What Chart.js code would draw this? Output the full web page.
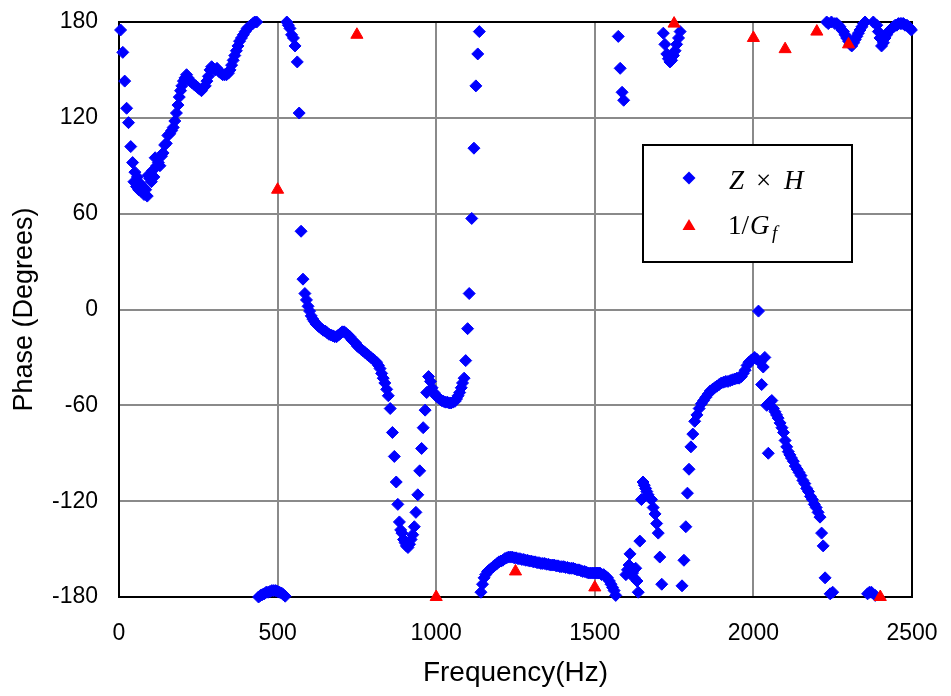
<!DOCTYPE html>
<html>
<head>
<meta charset="utf-8">
<script src="https://cdn.jsdelivr.net/npm/chart.js@4.4.1/dist/chart.umd.min.js"></script>
<style>
  html, body { margin: 0; padding: 0; background: #fff; }
</style>
</head>
<body>
<canvas id="phaseChart" width="951" height="696"></canvas>
<script>
// Z x H phase samples (Hz, degrees)
const zhFreq = [
  5, 12, 18, 24, 30, 37, 43, 47, 50, 55,
  58, 62, 66, 70, 74, 79, 84, 89, 92, 97,
  102, 106, 110, 114, 119, 124, 129, 134, 139, 144,
  149, 154, 160, 166, 171, 176, 181, 186, 190, 194,
  198, 203, 208, 213, 218, 224, 230, 236, 242, 248,
  254, 260, 266, 272, 277, 282, 287, 292, 297, 303,
  309, 315, 321, 327, 333, 339, 345, 350, 355, 360,
  365, 370, 375, 380, 386, 392, 398, 404, 410, 416,
  422, 428, 434, 440, 446, 452, 458, 464, 470, 476,
  482, 488, 494, 500, 506, 512, 518, 524, 529, 534,
  539, 544, 550, 555, 562, 568, 574, 580, 586, 591,
  596, 601, 606, 611, 616, 621, 626, 632, 638, 644,
  650, 656, 662, 668, 674, 680, 686, 692, 698, 704,
  710, 716, 722, 728, 734, 740, 746, 752, 758, 764,
  770, 776, 782, 788, 794, 800, 806, 812, 818, 823,
  828, 833, 838, 844, 849, 855, 862, 868, 874, 879,
  884, 888, 892, 897, 902, 906, 911, 916, 921, 926,
  931, 936, 942, 948, 954, 959, 965, 970, 976, 982,
  987, 993, 999, 1005, 1011, 1017, 1023, 1029, 1035, 1041,
  1047, 1053, 1059, 1064, 1069, 1074, 1079, 1083, 1088, 1093,
  1099, 1104, 1112, 1119, 1125, 1131, 1136, 1141, 1146, 1151,
  1156, 1162, 1168, 1174, 1180, 1186, 1192, 1198, 1204, 1210,
  1216, 1222, 1228, 1234, 1240, 1246, 1252, 1258, 1264, 1270,
  1276, 1282, 1288, 1294, 1300, 1306, 1312, 1318, 1324, 1330,
  1336, 1342, 1348, 1354, 1360, 1366, 1372, 1378, 1384, 1390,
  1396, 1402, 1408, 1414, 1420, 1426, 1432, 1438, 1444, 1450,
  1456, 1462, 1468, 1474, 1480, 1486, 1492, 1498, 1504, 1510,
  1516, 1522, 1528, 1534, 1540, 1546, 1551, 1556, 1561, 1566,
  1574, 1580, 1586, 1591, 1598, 1603, 1608, 1611, 1614, 1619,
  1624, 1629, 1633, 1637, 1642, 1647, 1652, 1656, 1660, 1664,
  1668, 1673, 1679, 1684, 1690, 1695, 1700, 1705, 1711, 1716,
  1721, 1727, 1732, 1737, 1742, 1748, 1753, 1758, 1764, 1769,
  1775, 1781, 1787, 1792, 1797, 1803, 1809, 1815, 1822, 1829,
  1836, 1843, 1850, 1857, 1864, 1871, 1878, 1885, 1892, 1899,
  1906, 1913, 1920, 1927, 1934, 1941, 1948, 1955, 1962, 1968,
  1974, 1980, 1986, 1992, 1998, 2004, 2010, 2016, 2021, 2026,
  2031, 2036, 2042, 2047, 2052, 2058, 2063, 2068, 2073, 2078,
  2084, 2090, 2095, 2100, 2105, 2110, 2115, 2120, 2126, 2132,
  2138, 2144, 2150, 2156, 2162, 2168, 2174, 2180, 2186, 2192,
  2198, 2204, 2210, 2215, 2220, 2226, 2231, 2236, 2242, 2246,
  2250, 2257, 2263, 2268, 2273, 2279, 2284, 2289, 2294, 2300,
  2305, 2310, 2316, 2321, 2326, 2331, 2336, 2342, 2347, 2352,
  2360, 2366, 2372, 2378, 2384, 2389, 2394, 2399, 2404, 2410,
  2415, 2420, 2426, 2431, 2436, 2442, 2447, 2452, 2457, 2463,
  2468, 2473, 2478, 2484, 2489, 2494, 2498
];
const zhPhase = [
  175, 161, 143, 126, 117, 102, 92, 80, 86, 77,
  83, 75, 79, 74, 77, 72, 75, 71, 84, 82,
  80, 87, 83, 95, 90, 92, 90, 96, 98, 103,
  104, 109, 110, 112, 114, 118, 123, 128, 133, 137,
  140, 143, 145, 147, 145, 143, 142, 141, 140, 139,
  138, 137, 139, 140, 143, 146, 150, 152, 151, 150,
  151, 149, 148, 147, 147, 147, 148, 150, 153, 156,
  159, 162, 165, 168, 170, 172, 174, 176, 177, 178,
  179, 180, 180, -180, -179, -178.5, -178, -177, -177, -176.5,
  -176, -176, -176, -176.5, -177, -177.5, -178.5, -179.5, 180, 178,
  176, 172, 170, 165, 155, 123, 49, 19, 10, 6,
  2, -1, -4, -6, -7.5, -9, -10, -11, -12, -13,
  -13.5, -14.5, -15.5, -16, -16.5, -17, -17, -16, -15, -14,
  -14, -15, -16, -17, -19, -20, -21, -23, -24, -25,
  -26, -27, -28, -29, -30, -31, -32, -33, -35, -37,
  -40, -43, -46, -50, -54, -62, -77, -92, -108, -122,
  -133, -138, -140, -144, -146, -148, -149, -147, -144, -141,
  -136, -127, -116, -101, -87, -74, -63, -52, -42, -45,
  -49, -52, -54, -55, -56, -57, -57.5, -58, -58, -58.5,
  -58.5, -58, -57.5, -56, -54, -52, -49, -46, -43, -32,
  -12, 10, 57, 101, 140, 160, 174, -177, -172, -168,
  -166, -164, -163, -162, -161, -160, -159, -158, -157.5, -157,
  -156, -155.5, -155, -155, -155, -155.5, -155.5, -156, -156, -156.5,
  -156.5, -157, -157, -157.5, -157.5, -158, -158, -158.5, -158.5, -159,
  -159, -159, -159.5, -159.5, -160, -160, -160, -160.5, -160.5, -161,
  -161, -161, -161.5, -161.5, -162, -162, -162, -162.5, -163, -163,
  -163.5, -164, -164, -164.5, -165, -165, -165, -165, -165, -165,
  -165, -166, -166, -167, -168, -170, -172, -174, -176, -179,
  171, 151, 136, 131, -166, -163, -160, -153, -162, -165,
  -168, -162, -170, -177, -145, -119, -108, -110, -112, -114,
  -116, -118, -119, -124, -128, -134, -140, -155, -172, 173,
  166, 160, 157, 155, 156, 159, 162, 166, 170, 174,
  -173, -157, -136, -115, -100, -86, -78, -70, -66, -62,
  -59, -57, -55, -53, -51, -50, -49, -48, -47, -46,
  -45.5, -45, -45, -44.5, -44, -43.5, -43, -43, -42, -40,
  -38, -35, -33, -32, -31, -30, -31, -1, -33, -47,
  -36, -30, -60, -90, -58, -57, -62, -64, -66, -68,
  -71, -74, -77, -82, -86, -89, -91, -93, -95, -98,
  -100, -102, -104, -107, -109, -112, -114, -117, -119, -122,
  -124, -127, -130, -140, -148, -168, 180, 179, -178, 180,
  -177, 179, 179, 178, 177, 175, 174, 172, 170, 168,
  166, 165, 167, 169, 171, 173, 175, 177, 179, 180,
  -178, -177, -177, 180, -179, 178, 174, 170, 165, 167,
  170, 172, 174, 175, 176, 177, 178, 178, 179, 179,
  179, 179, 178, 178, 177, 176, 175
];

// 1/Gf at the 250 Hz test points
const gfFreq = [500, 750, 1000, 1250, 1500, 1750, 2000, 2100, 2200, 2300, 2400];
const gfPhase = [75, 172, -180, -164, -174, 179, 170, 163, 174, 166, -180];

const xTicks = [0, 500, 1000, 1500, 2000, 2500];
const yTicks = [-180, -120, -60, 0, 60, 120, 180];

const toPoints = (xs, ys) => xs.map((x, i) => ({ x: x, y: ys[i] }));

const FONT = "'Liberation Sans', Arial, sans-serif";
const MATH = "'Liberation Serif', 'Times New Roman', serif";

// plot frame drawn under the markers, legend drawn over everything
const framePlugin = {
  id: 'frame',
  beforeDatasetsDraw(chart) {
    const { ctx, chartArea: a } = chart;
    ctx.save();
    ctx.strokeStyle = '#000';
    ctx.lineWidth = 2;
    ctx.strokeRect(a.left, a.top, a.right - a.left, a.bottom - a.top);
    ctx.restore();
  },
  afterDraw(chart) {
    const ctx = chart.ctx;
    ctx.save();
    ctx.fillStyle = '#fff';
    ctx.fillRect(643, 145, 209, 117);
    ctx.strokeStyle = '#000';
    ctx.lineWidth = 2;
    ctx.strokeRect(643, 145, 209, 117);

    // diamond
    ctx.fillStyle = '#0000ff';
    ctx.beginPath();
    ctx.moveTo(689, 171.5);
    ctx.lineTo(695.5, 178);
    ctx.lineTo(689, 184.5);
    ctx.lineTo(682.5, 178);
    ctx.closePath();
    ctx.fill();
    // triangle
    ctx.fillStyle = '#ff0000';
    ctx.beginPath();
    ctx.moveTo(689, 219);
    ctx.lineTo(695.5, 230);
    ctx.lineTo(682.5, 230);
    ctx.closePath();
    ctx.fill();

    ctx.fillStyle = '#000';
    ctx.textBaseline = 'alphabetic';
    ctx.font = 'italic 27px ' + MATH;
    ctx.fillText('Z', 729, 189);
    ctx.font = '27px ' + MATH;
    ctx.fillText('\u00d7', 756, 189);
    ctx.font = 'italic 27px ' + MATH;
    ctx.fillText('H', 784, 189);

    ctx.font = '27px ' + MATH;
    ctx.fillText('1/', 728, 234);
    ctx.font = 'italic 27px ' + MATH;
    ctx.fillText('G', 750, 234);
    ctx.font = 'italic 19px ' + MATH;
    ctx.fillText('f', 772, 239);
    ctx.restore();
  }
};

const noPad = (s) => { s.paddingTop = 0; s.paddingBottom = 0; s.paddingLeft = 0; s.paddingRight = 0; };

const ctx = document.getElementById('phaseChart').getContext('2d');
new Chart(ctx, {
  type: 'scatter',
  data: {
    datasets: [
      {
        label: 'Z \u00d7 H',
        data: toPoints(zhFreq, zhPhase),
        pointStyle: 'rectRot',
        pointRadius: 6,
        backgroundColor: '#0000ff',
        borderColor: '#0000ff',
        borderWidth: 1,
        clip: false,
        order: 2
      },
      {
        label: '1/Gf',
        data: toPoints(gfFreq, gfPhase),
        pointStyle: 'triangle',
        pointRadius: 7,
        backgroundColor: '#ff0000',
        borderColor: '#ff0000',
        borderWidth: 1,
        clip: false,
        order: 1
      }
    ]
  },
  options: {
    responsive: false,
    animation: false,
    layout: { padding: { top: 22, right: 39, left: 0, bottom: 0 } },
    plugins: {
      legend: { display: false },
      tooltip: { enabled: false }
    },
    scales: {
      x: {
        type: 'linear',
        min: 0,
        max: 2500,
        afterFit: (s) => { s.height = 99; noPad(s); },
        afterBuildTicks: (s) => { s.ticks = xTicks.map(v => ({ value: v })); },
        ticks: { color: '#000', font: { family: FONT, size: 23 }, padding: 23, callback: (v) => String(v) },
        grid: { color: '#8a8a8a', lineWidth: 2, drawTicks: false },
        border: { display: false },
        title: {
          display: true,
          text: 'Frequency(Hz)',
          color: '#000',
          font: { family: FONT, size: 28 },
          padding: { top: 0, bottom: 6 }
        }
      },
      y: {
        type: 'linear',
        min: -180,
        max: 180,
        afterFit: (s) => { s.width = 119; noPad(s); },
        afterBuildTicks: (s) => { s.ticks = yTicks.map(v => ({ value: v })); },
        ticks: { color: '#000', font: { family: FONT, size: 23 }, padding: 21, callback: (v) => String(v) },
        grid: { color: '#8a8a8a', lineWidth: 2, drawTicks: false },
        border: { display: false },
        title: {
          display: true,
          text: 'Phase (Degrees)',
          color: '#000',
          font: { family: FONT, size: 27 },
          padding: { top: 8, bottom: 0 }
        }
      }
    }
  },
  plugins: [framePlugin]
});
</script>
</body>
</html>
